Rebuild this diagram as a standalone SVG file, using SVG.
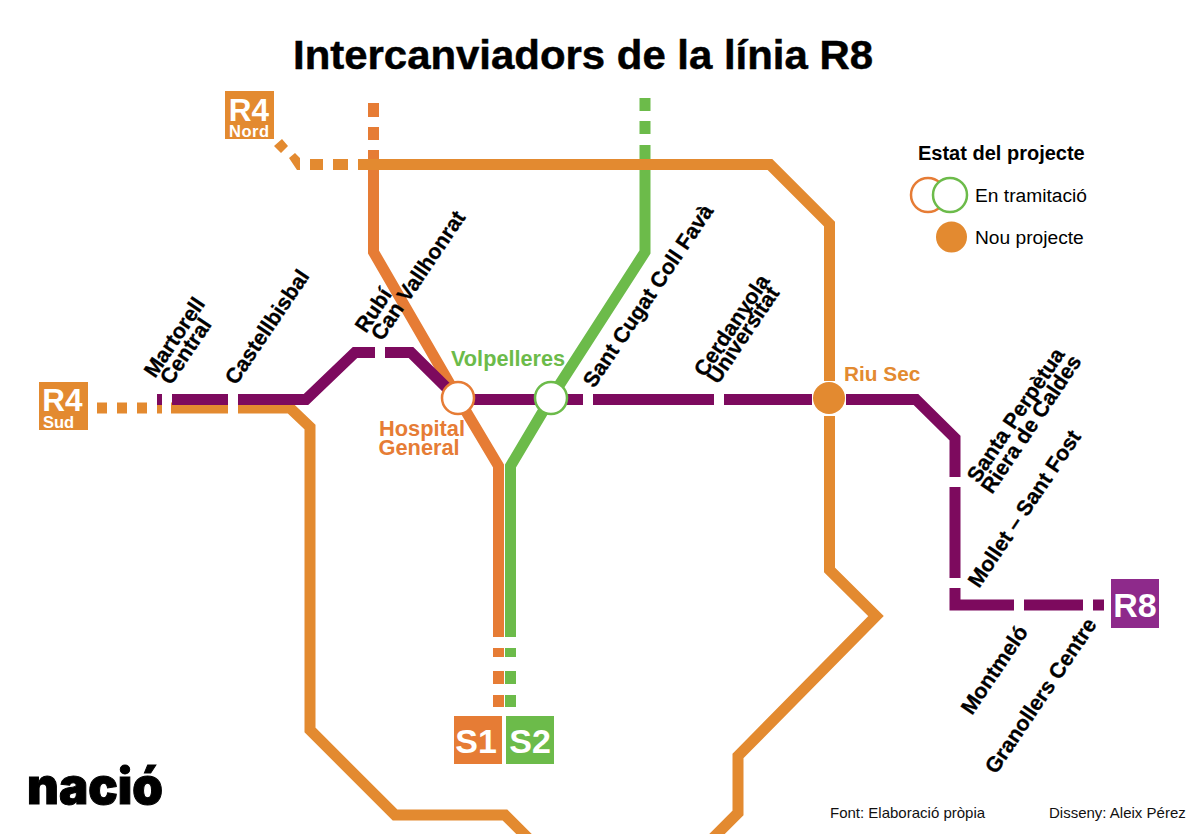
<svg xmlns="http://www.w3.org/2000/svg" width="1200" height="834" viewBox="0 0 1200 834">
<style>
text{font-family:"Liberation Sans",Arial,sans-serif;font-weight:700}
.l{fill:none;stroke-width:11;stroke-linejoin:miter}
.o{stroke:#e38a30}.s1{stroke:#e67c35}.s2{stroke:#6cbb4a}.p{stroke:#7d0a5e}
.st{font-size:21.500px;fill:#000;stroke:#000;stroke-width:.3px}
.box{font-size:34px;fill:#fff;text-anchor:middle}
.r4{font-size:31.500px}
.sub{font-size:16.500px;fill:#fff;text-anchor:middle}
.note{font-size:15px;fill:#111}
.reg{font-weight:400}
</style>
<rect width="1200" height="834" fill="#fff"/>
<text id="title" x="293" y="69" font-size="41.500" textLength="580" lengthAdjust="spacingAndGlyphs" fill="#000" stroke="#000" stroke-width=".5">Intercanviadors de la línia R8</text>
<g id="connectors">
<path class="l s1" d="M373.500 103V117M373.500 127V140M373.500 150V252L458 398L498.500 466V637M498.500 648V657M498.500 671V684M498.500 695V707"/>
<path class="l s2" d="M645 98V111M645 121V134M645 145V252L551 398L510.500 466V637M510.500 648V657M510.500 671V684M510.500 695V707"/>
<path class="l o" d="M310 164.500H323M333 164.500H348M358 164.500H770L829.500 224V381M829.500 416V570L876 616L738 756V813L700 851"/>
<path d="M274 146L282 139L288 146L281 153ZM289 158L295 153L300 158V170H297Z" fill="#e38a30"/>
<path class="l o" d="M97 408H107M117 408H127M137 408H147M157 408H162M171 408H228M238 408H290L310 427V730L395 815H505L530 840"/>
<path class="l p" d="M172 399.500H228M238 399.500H306L355 352.500H375M385 352.500H411L458 399M458 399.500H583M593 399.500H714M724 399.500H812M846 399.500H916L955 438V477M955 487V578M955 588V605H1014M1024 605H1083M1093 605H1104"/>
<rect x="157" y="394" width="5" height="11" fill="#7d0a5e"/>
</g>
<g id="R4Nord"><rect x="225" y="91" width="49" height="48" fill="#e38a30"/><text class="box r4" x="249" y="120.500">R4</text><text class="sub" x="249" y="137" textLength="40">Nord</text></g>
<g id="R4Sud"><rect x="39" y="382" width="49" height="48" fill="#e38a30"/><text class="box r4" x="62.500" y="411">R4</text><text class="sub" x="58.500" y="427.500">Sud</text></g>
<g id="R8"><rect x="1111" y="579" width="48" height="49" fill="#8e2a8b"/><text class="box" x="1135" y="617">R8</text></g>
<g id="S1"><rect x="454" y="716" width="48" height="48" fill="#e67c35"/><text class="box" x="476" y="753">S1</text></g>
<g id="S2"><rect x="506" y="716" width="48" height="48" fill="#6cbb4a"/><text class="box" x="530" y="753">S2</text></g>
<g id="hospital"><circle cx="458" cy="398" r="16" fill="#fff" stroke="#e67c35" stroke-width="2.500"/><text x="379" y="436" font-size="21.800" fill="#e67c35">Hospital</text><text x="378.500" y="454.500" font-size="21.800" fill="#e67c35">General</text></g>
<g id="volpelleres"><circle cx="551" cy="398" r="16" fill="#fff" stroke="#6cbb4a" stroke-width="2.500"/><text x="451" y="366" font-size="21.700" fill="#6cbb4a">Volpelleres</text></g>
<g id="riusec"><circle cx="829" cy="398" r="16" fill="#e38a30"/><text x="844" y="381" font-size="20.800" fill="#e38a30">Riu Sec</text></g>
<g id="st-martorell"><text class="st" transform="translate(155 379) rotate(-56)">Martorell</text><text class="st" transform="translate(171 386) rotate(-56)">Central</text></g>
<g id="st-castellbisbal"><text class="st" transform="translate(236 386) rotate(-56)">Castellbisbal</text></g>
<g id="st-rubi"><text class="st" transform="translate(366 334) rotate(-56)">Rubí</text><text class="st" transform="translate(382 342) rotate(-56)">Can Vallhonrat</text></g>
<g id="st-santcugat"><text class="st" transform="translate(594 389) rotate(-56)">Sant Cugat Coll Favà</text></g>
<g id="st-cerdanyola"><text class="st" transform="translate(705 378) rotate(-56)">Cerdanyola</text><text class="st" transform="translate(718 385) rotate(-56)">Universitat</text></g>
<g id="st-santaperpetua"><text class="st" transform="translate(978 484) rotate(-56)">Santa Perpètua</text><text class="st" transform="translate(992 495) rotate(-56)">Riera de Caldes</text></g>
<g id="st-mollet"><text class="st" transform="translate(979 589) rotate(-56)">Mollet – Sant Fost</text></g>
<g id="st-montmelo"><text class="st" transform="translate(972 716) rotate(-56)">Montmeló</text></g>
<g id="st-granollers"><text class="st" transform="translate(996 775) rotate(-56)">Granollers Centre</text></g>
<g id="legend">
<text x="918" y="159.500" font-size="20" fill="#000">Estat del projecte</text>
<circle cx="928" cy="195" r="17" fill="#fff" stroke="#e67c35" stroke-width="2.500"/>
<circle cx="950" cy="195" r="17" fill="#fff" stroke="#6cbb4a" stroke-width="2.500"/>
<text class="reg" x="975" y="202" font-size="19.200">En tramitació</text>
<circle cx="951.500" cy="237" r="15.500" fill="#e38a30"/>
<text class="reg" x="975" y="244" font-size="19.200">Nou projecte</text>
</g>
<text id="logo" x="27" y="804" style="font-family:Inter,sans-serif;font-weight:900" font-size="50" textLength="136" lengthAdjust="spacingAndGlyphs" fill="#000" stroke="#000" stroke-width="1">nació</text>
<text class="note reg" x="830" y="818">Font: Elaboració pròpia</text>
<text class="note reg" x="1049" y="818">Disseny: Aleix Pérez</text>
</svg>
